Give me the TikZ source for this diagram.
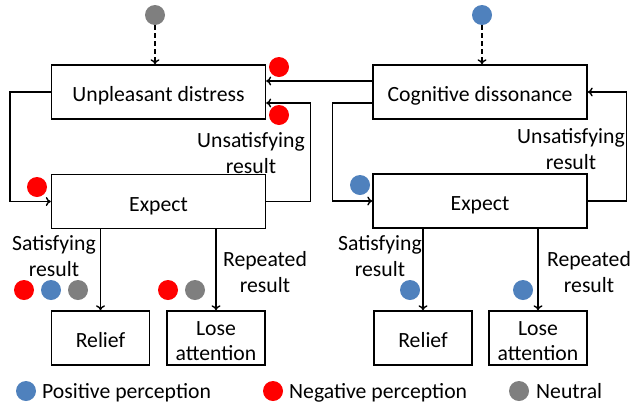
\documentclass[tikz,border=0pt]{standalone}
\usepackage{fontspec}
\setmainfont{Carlito}
\usetikzlibrary{arrows.meta,positioning}
\definecolor{percblue}{HTML}{4F81BD}
\definecolor{percred}{HTML}{FF0000}
\definecolor{percgray}{HTML}{7F7F7F}

\begin{document}
\begin{tikzpicture}[x=1pt,y=-1pt, every node/.style={font=\fontsize{21.7}{25.5}\selectfont},
 box/.style={draw,line width=1.4pt,minimum width=214pt,minimum height=54pt,inner sep=0pt,align=center},
 onebox/.style={box,text height=19pt,text depth=0pt},
 endbox/.style={box,minimum width=98pt},
 lbl/.style={align=center,inner sep=0pt},
 dot/.style={circle,inner sep=0pt,minimum size=20pt},
 arr/.style={-{To[length=5pt,width=9pt]},line width=1.4pt},
 darr/.style={arr,dash pattern=on 5pt off 3pt}]
\useasboundingbox (0,0) rectangle (631,405);
% left half
\node[onebox] (distress) at (158.5,92) {Unpleasant distress};
\node[onebox] (expectL) at (158.5,201.5) {Expect};
\node[onebox,minimum width=98pt] (reliefL) at (100.5,338) {Relief};
\node[endbox] (loseL) at (216,338) {};
\node[lbl] (loseLtxt) at (216,341) {Lose\\attention};
\node[dot,fill=percgray] (startL) at (155,15) {};
% right half
\node[onebox] (dissonance) at (480,92) {Cognitive dissonance};
\node[onebox] (expectR) at (480,201) {Expect};
\node[onebox,minimum width=98pt] (reliefR) at (423,338) {Relief};
\node[endbox] (loseR) at (538,338) {};
\node[lbl] (loseRtxt) at (538,341) {Lose\\attention};
\node[dot,fill=percblue] (startR) at (482,15) {};
% connectors
\draw[darr] (startL.south) -- (startL |- distress.north);
\draw[darr] (startR.south) -- (startR |- dissonance.north);
\draw[arr] ([yshift=11pt]dissonance.west) -- ([yshift=11pt]distress.east);
\draw[arr] (distress.west) -- ++(-41,0) |- (expectL.west);
\draw[arr] (expectL.east) -- ++(44,0) |- ([yshift=-11pt]distress.east);
\draw[arr] ([yshift=-11pt]dissonance.west) -- ++(-40,0) |- (expectR.west);
\draw[arr] (expectR.east) -- ++(39,0) |- (dissonance.east);
\draw[arr] (expectL.south -| reliefL) -- (reliefL.north);
\draw[arr] (expectL.south -| loseL) -- (loseL.north);
\draw[arr] (expectR.south -| reliefR) -- (reliefR.north);
\draw[arr] (expectR.south -| loseR) -- (loseR.north);
% labels
\node[lbl] (unsatL) at (251,153) {Unsatisfying\\result};
\node[lbl] (unsatR) at (571,149) {Unsatisfying\\result};
\node[lbl] (satL) at (54,256) {Satisfying\\result};
\node[lbl] (repL) at (265,272) {Repeated\\result};
\node[lbl] (satR) at (380,256) {Satisfying\\result};
\node[lbl] (repR) at (589,272) {Repeated\\result};
% perception dots
\node[dot,fill=percred] (inL) at (279,67) {};
\node[dot,fill=percred] (backL) at (279,115) {};
\node[dot,fill=percred] (loopL) at (37,187) {};
\node[dot,fill=percblue] (loopR) at (360,185) {};
\node[dot,fill=percred] (satLa) at (24,290) {};
\node[dot,fill=percblue] (satLb) at (51,290) {};
\node[dot,fill=percgray] (satLc) at (78,290) {};
\node[dot,fill=percred] (repLa) at (168,290) {};
\node[dot,fill=percgray] (repLb) at (195,290) {};
\node[dot,fill=percblue] (satRa) at (410,290) {};
\node[dot,fill=percblue] (repRa) at (523,290) {};
% legend
\node[dot,fill=percblue] (keypos) at (26,391) {};
\node[anchor=base west,inner sep=0pt] (keyposlbl) at (42,398.5) {Positive perception};
\node[dot,fill=percred] (keyneg) at (273,391) {};
\node[anchor=base west,inner sep=0pt] (keyneglbl) at (289,398.5) {Negative perception};
\node[dot,fill=percgray] (keyneu) at (519,391) {};
\node[anchor=base west,inner sep=0pt] (keyneulbl) at (536,398.5) {Neutral};
\end{tikzpicture}
\end{document}
